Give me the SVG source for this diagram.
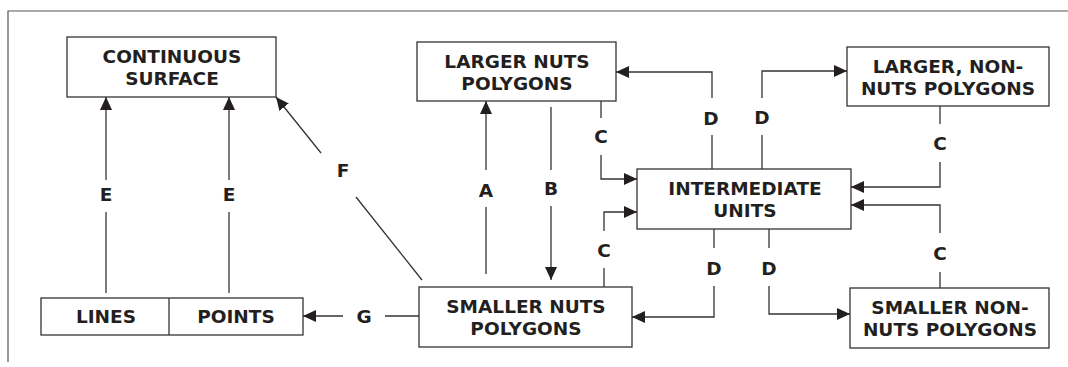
<svg xmlns="http://www.w3.org/2000/svg" width="1068" height="367" viewBox="0 0 1068 367">
<defs>
<style>
.box{fill:#fff;stroke:#333;stroke-width:1.3}
.t{font-family:"DejaVu Sans",sans-serif;font-weight:bold;font-size:18.5px;fill:#231f20;text-anchor:middle}
.lbl{font-family:"DejaVu Sans",sans-serif;font-weight:bold;font-size:18.5px;fill:#231f20;text-anchor:middle}
.c{fill:none;stroke:#333;stroke-width:1.3}
</style>
<marker id="ah" markerUnits="userSpaceOnUse" markerWidth="14" markerHeight="13" refX="13" refY="6" orient="auto">
<path d="M0,0 L13,6 L0,12 z" fill="#231f20"/>
</marker>
</defs>
<rect width="1068" height="367" fill="#fff"/>
<path d="M8,362 L8,11 L1068,11" fill="none" stroke="#555" stroke-width="1.2"/>

<g id="continuous-surface">
<rect class="box" x="67" y="37" width="209" height="60"/>
<text class="t" x="172" y="63">CONTINUOUS</text>
<text class="t" x="172" y="85">SURFACE</text>
</g>
<g id="larger-nuts">
<rect class="box" x="417" y="42" width="199" height="59"/>
<text class="t" x="517" y="68">LARGER NUTS</text>
<text class="t" x="517" y="90">POLYGONS</text>
</g>
<g id="larger-non-nuts">
<rect class="box" x="847" y="47" width="202" height="59"/>
<text class="t" x="948" y="73">LARGER, NON-</text>
<text class="t" x="948" y="95">NUTS POLYGONS</text>
</g>
<g id="intermediate">
<rect class="box" x="637" y="169" width="214" height="60"/>
<text class="t" x="745" y="195">INTERMEDIATE</text>
<text class="t" x="745" y="217">UNITS</text>
</g>
<g id="lines-points">
<rect class="box" x="41" y="298" width="262" height="37"/>
<line class="box" x1="169" y1="298" x2="169" y2="335"/>
<text class="t" x="106" y="323">LINES</text>
<text class="t" x="236" y="323">POINTS</text>
</g>
<g id="smaller-nuts">
<rect class="box" x="419" y="287" width="213" height="60"/>
<text class="t" x="526" y="313">SMALLER NUTS</text>
<text class="t" x="526" y="335">POLYGONS</text>
</g>
<g id="smaller-non-nuts">
<rect class="box" x="850" y="288" width="199" height="60"/>
<text class="t" x="950" y="314">SMALLER NON-</text>
<text class="t" x="950" y="336">NUTS POLYGONS</text>
</g>

<g id="connectors">
<line class="c" x1="106" y1="293" x2="106" y2="212"/>
<line class="c" x1="106" y1="180" x2="106" y2="97" marker-end="url(#ah)"/>
<line class="c" x1="229" y1="293" x2="229" y2="212"/>
<line class="c" x1="229" y1="180" x2="229" y2="97" marker-end="url(#ah)"/>
<line class="c" x1="422" y1="280" x2="356" y2="197"/>
<line class="c" x1="321" y1="153" x2="276" y2="97" marker-end="url(#ah)"/>
<line class="c" x1="486" y1="274" x2="486" y2="207"/>
<line class="c" x1="486" y1="170" x2="486" y2="101" marker-end="url(#ah)"/>
<line class="c" x1="551" y1="107" x2="551" y2="170"/>
<line class="c" x1="551" y1="206" x2="551" y2="280" marker-end="url(#ah)"/>
<line class="c" x1="601" y1="101" x2="601" y2="118"/>
<polyline class="c" points="601,155 601,179 637,179" marker-end="url(#ah)"/>
<line class="c" x1="604" y1="287" x2="604" y2="268"/>
<polyline class="c" points="604,231 604,212 637,212" marker-end="url(#ah)"/>
<line class="c" x1="712" y1="169" x2="712" y2="135"/>
<polyline class="c" points="712,98 712,72 616,72" marker-end="url(#ah)"/>
<line class="c" x1="762" y1="169" x2="762" y2="135"/>
<polyline class="c" points="762,98 762,71 847,71" marker-end="url(#ah)"/>
<line class="c" x1="940" y1="106" x2="940" y2="124"/>
<polyline class="c" points="940,162 940,187 851,187" marker-end="url(#ah)"/>
<line class="c" x1="940" y1="288" x2="940" y2="272"/>
<polyline class="c" points="940,233 940,205 851,205" marker-end="url(#ah)"/>
<line class="c" x1="714" y1="229" x2="714" y2="248"/>
<polyline class="c" points="714,286 714,317 632,317" marker-end="url(#ah)"/>
<line class="c" x1="769" y1="229" x2="769" y2="248"/>
<polyline class="c" points="769,286 769,314 850,314" marker-end="url(#ah)"/>
<line class="c" x1="419" y1="316" x2="385" y2="316"/>
<line class="c" x1="343" y1="316" x2="303" y2="316" marker-end="url(#ah)"/>
</g>

<g id="labels">
<text class="lbl" x="106" y="201">E</text>
<text class="lbl" x="229" y="201">E</text>
<text class="lbl" x="343" y="177">F</text>
<text class="lbl" x="486" y="197">A</text>
<text class="lbl" x="551" y="195">B</text>
<text class="lbl" x="601" y="143">C</text>
<text class="lbl" x="604" y="257">C</text>
<text class="lbl" x="711" y="125">D</text>
<text class="lbl" x="762" y="124">D</text>
<text class="lbl" x="940" y="150">C</text>
<text class="lbl" x="940" y="260">C</text>
<text class="lbl" x="714" y="275">D</text>
<text class="lbl" x="769" y="275">D</text>
<text class="lbl" x="364" y="323">G</text>
</g>
</svg>
